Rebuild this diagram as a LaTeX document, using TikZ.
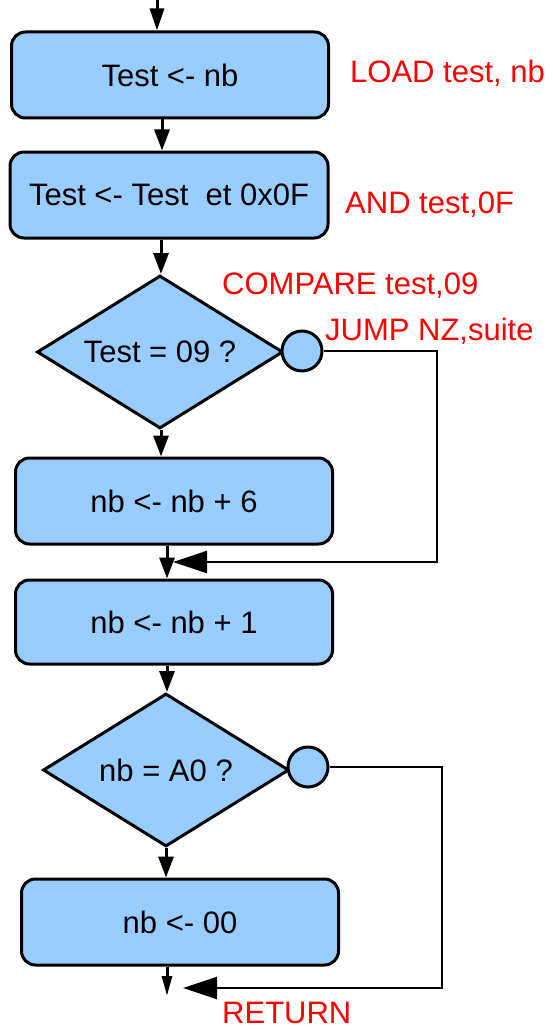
\documentclass[tikz,border=0pt]{standalone}
\usepackage{xcolor}
\usepackage{fontspec}
\usepackage{tikz}
\usetikzlibrary{shapes.geometric, arrows.meta, positioning, calc}
\setmainfont{Liberation Sans}
\definecolor{stepblue}{RGB}{153, 204, 255}
\definecolor{asmred}{RGB}{255, 0, 0}
\tikzset{
    stepbox/.style={rectangle, draw=black, line width=3pt, fill=stepblue, rounded corners=14pt,
                    minimum width=317pt, minimum height=86pt, inner sep=0pt,
                    font=\fontsize{31}{34}\selectfont},
    testbox/.style={diamond, draw=black, line width=3pt, fill=stepblue, inner sep=0pt,
                    shape aspect=1.6, minimum width=246pt, minimum height=153pt,
                    font=\fontsize{31}{34}\selectfont},
    jumpdot/.style={circle, draw=black, line width=3pt, fill=stepblue, minimum size=40pt, inner sep=0pt},
    asmlabel/.style={anchor=west, text=asmred, inner sep=0pt, font=\fontsize{31}{34}\selectfont},
    flow/.style={line width=3pt, -{Triangle[length=21pt,width=15pt]}},
    loopback/.style={line width=2.5pt, -{Triangle[length=34pt,width=22pt]}}
}

\begin{document}
\begin{tikzpicture}[x=1pt, y=-1pt]
    \useasboundingbox (0,0) rectangle (552,1030);

    \node[stepbox] (load) at (170,75) {Test <- nb};
    \node[stepbox, minimum width=318pt] (mask) at (169,195) {Test <- Test\ \ et 0x0F};
    \node[testbox] (cmp) at (160,352) {Test = 09 ?};
    \node[jumpdot] (nz) at (302,351) {};
    \node[stepbox] (addsix) at (174,501) {nb <- nb + 6};
    \node[stepbox, minimum height=84pt] (addone) at (174,622) {nb <- nb + 1};
    \node[testbox] (cmpa) at (166,770) {nb = A0 ?};
    \node[jumpdot] (za) at (308,767) {};
    \node[stepbox] (clear) at (180,922) {nb <- 00};

    \node[asmlabel] (loadasm) at (350,73) {LOAD test, nb};
    \node[asmlabel] (andasm) at (345,205) {AND test,0F};
    \node[asmlabel] (cmpasm) at (222,286) {COMPARE test,09};
    \node[asmlabel] (jmpasm) at (325,331) {JUMP NZ,suite};
    \node[asmlabel] (retasm) at (222,1013) {RETURN};

    \coordinate (entry) at (157,0);
    \coordinate (exit) at (167,996);
    \coordinate (join) at (173,562);
    \coordinate (joinret) at (183,988);

    \draw[flow, -{Triangle[length=22pt,width=14pt]}] (entry) -- (entry |- load.north);
    \draw[flow] ([xshift=-8pt]load.south) -- ([xshift=-8pt]load.south |- mask.north);
    \draw[flow] ([xshift=1pt]cmp.north |- mask.south) -- ([xshift=1pt]cmp.north);
    \draw[flow] ([xshift=1pt]cmp.south) -- ([xshift=1pt]cmp.south |- addsix.north);
    \draw[flow] ([xshift=1pt]cmpa.north |- addsix.south) -- ([xshift=1pt]cmpa.north |- addone.north);
    \draw[flow] ([xshift=1pt]cmpa.north |- addone.south) -- ([xshift=1pt]cmpa.north);
    \draw[flow] (cmpa.south) -- (cmpa.south |- clear.north);
    \draw[line width=3pt, -{Triangle[length=20pt,width=10pt]}] (exit |- clear.south) -- (exit);

    \draw[loopback] (nz.east) -- (437,351) |- (join);
    \draw[loopback] (za.east) -- (442,767) |- (joinret);
\end{tikzpicture}
\end{document}
